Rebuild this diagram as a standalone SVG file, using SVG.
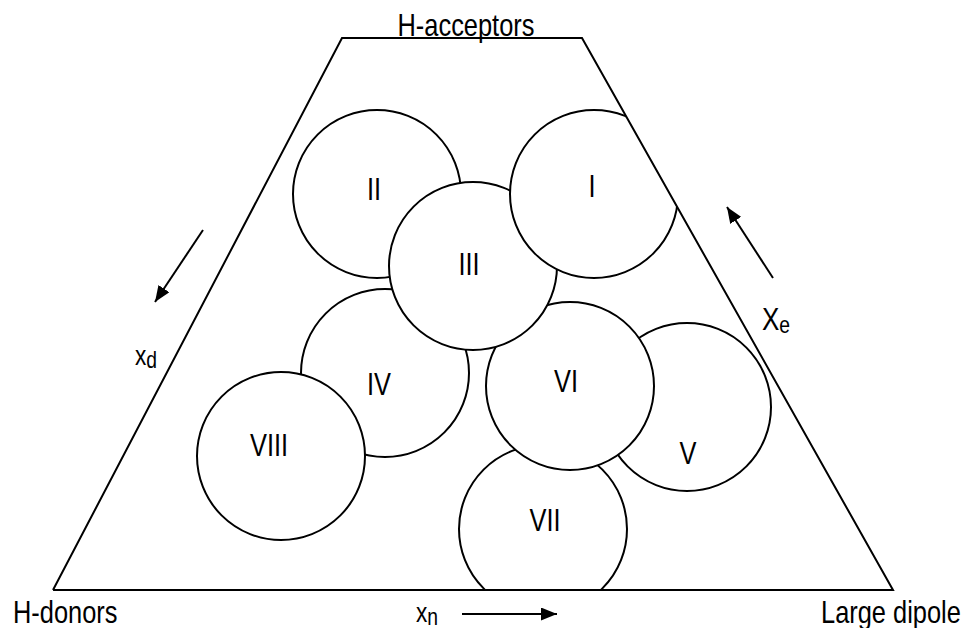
<svg xmlns="http://www.w3.org/2000/svg" width="966" height="628" viewBox="0 0 966 628">
  <style>
    .c { fill: #ffffff; stroke: #000000; stroke-width: 2; }
    .edge { fill: none; stroke: #000000; stroke-width: 2; }
    .t { font-family: "Liberation Sans", Arial, sans-serif; font-size: 31px; fill: #000000; }
    .m { text-anchor: middle; }
    .sub { font-size: 23px; }
  </style>
  <defs>
    <clipPath id="trap">
      <polygon points="342,38 582,38 893,590 53,590"/>
    </clipPath>
    <marker id="ah" viewBox="0 0 16 13" refX="16" refY="6.5" markerWidth="16" markerHeight="13" markerUnits="userSpaceOnUse" orient="auto">
      <path d="M0,0 L16,6.5 L0,13 Z" fill="#000000"/>
    </marker>
  </defs>
  <rect x="0" y="0" width="966" height="628" fill="#ffffff"/>

  <g id="circles" clip-path="url(#trap)">
    <g id="node-II">
      <circle class="c" cx="377" cy="194" r="84"/>
      <text class="t m" transform="translate(374,200) scale(0.82,1)">II</text>
    </g>
    <g id="node-IV">
      <circle class="c" cx="385" cy="373" r="84"/>
      <text class="t m" transform="translate(379,395) scale(0.82,1)">IV</text>
    </g>
    <g id="node-VIII">
      <circle class="c" cx="281" cy="456" r="84"/>
      <text class="t m" transform="translate(269,456) scale(0.82,1)">VIII</text>
    </g>
    <g id="node-V">
      <circle class="c" cx="687" cy="407" r="84"/>
      <text class="t m" transform="translate(688,464) scale(0.82,1)">V</text>
    </g>
    <g id="node-VII">
      <circle class="c" cx="543" cy="529" r="84"/>
      <text class="t m" transform="translate(545,531) scale(0.82,1)">VII</text>
    </g>
    <g id="node-VI">
      <circle class="c" cx="570" cy="386" r="84"/>
      <text class="t m" transform="translate(566,392) scale(0.82,1)">VI</text>
    </g>
    <g id="node-III">
      <circle class="c" cx="473" cy="266" r="84"/>
      <text class="t m" transform="translate(469,275) scale(0.82,1)">III</text>
    </g>
    <g id="node-I">
      <circle class="c" cx="594" cy="194" r="84"/>
      <text class="t m" transform="translate(592,197) scale(0.82,1)">I</text>
    </g>
  </g>

  <g id="triangle">
    <polyline class="edge" points="53,590 342,38 582,38 893,590 53,590"/>
  </g>

  <g id="connectors">
    <line class="edge" x1="203" y1="230" x2="155" y2="302" marker-end="url(#ah)"/>
    <line class="edge" x1="773" y1="278" x2="727" y2="207" marker-end="url(#ah)"/>
    <line class="edge" x1="462" y1="614" x2="557" y2="614" marker-end="url(#ah)"/>
  </g>

  <g id="labels">
    <g id="label-acceptors">
      <text class="t m" transform="translate(466,36) scale(0.82,1)">H-acceptors</text>
    </g>
    <g id="label-donors">
      <text class="t" transform="translate(13,623) scale(0.82,1)">H-donors</text>
    </g>
    <g id="label-dipole">
      <text class="t" transform="translate(821,623) scale(0.82,1)">Large dipole</text>
    </g>
    <g id="label-xd">
      <text class="t" transform="translate(135,365) scale(0.84,1)" style="font-size:27px">x<tspan class="sub" dy="3">d</tspan></text>
    </g>
    <g id="label-xe">
      <text class="t" transform="translate(762,330) scale(0.84,1)">X<tspan class="sub" dy="3">e</tspan></text>
    </g>
    <g id="label-xn">
      <text class="t" transform="translate(416,622) scale(0.84,1)" style="font-size:27px">x<tspan class="sub" dy="3">n</tspan></text>
    </g>
  </g>
</svg>
